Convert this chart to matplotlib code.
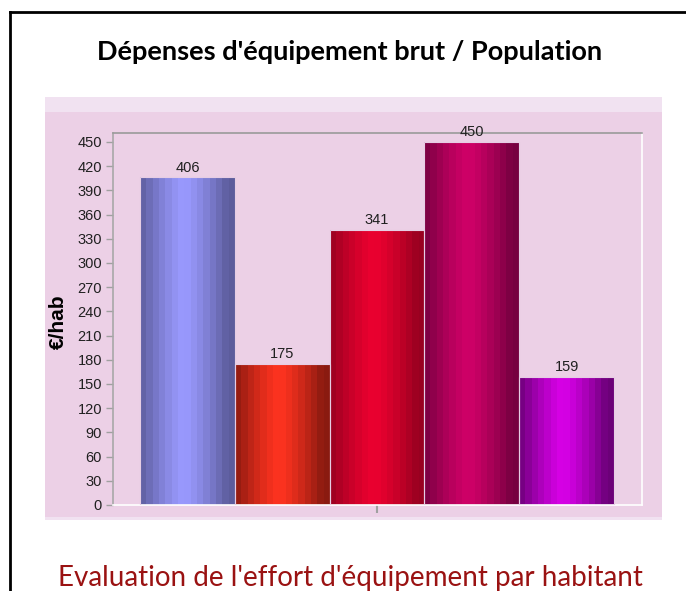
import numpy as np
import matplotlib
matplotlib.use("Agg")
from matplotlib import pyplot as plt
from matplotlib.colors import to_rgb
from matplotlib.patches import Rectangle
from matplotlib.lines import Line2D

# Données
valeurs = [406, 175, 341, 450, 159]
couleurs_centre = ["#9a9aff", "#ff3320", "#ec0030", "#d00068", "#d800e8"]
couleurs_bord = ["#5c5c9c", "#8a1a10", "#980020", "#760040", "#6c0078"]
graduations = list(range(0, 451, 30))

titre = "Dépenses d'équipement brut / Population"
sous_titre = "Evaluation de l'effort d'équipement par habitant"
label_y = "€/hab"

W, H = 686, 591
fig = plt.figure(figsize=(W / 100, H / 100), dpi=100)
fig.patch.set_facecolor("white")

def fx(px):
    return px / W

def fy(py):
    return 1 - py / H

# cadre noir du document
fig.add_artist(Line2D([fx(10), fx(686)], [fy(12), fy(12)], color="black", lw=2))
fig.add_artist(Line2D([fx(10), fx(10)], [fy(12), fy(591)], color="black", lw=2))

# fond du graphique
fig.add_artist(Rectangle((fx(45), fy(520)), fx(662) - fx(45), fy(97) - fy(520),
                         facecolor="#ecd0e6", edgecolor="none", zorder=0))
fig.add_artist(Rectangle((fx(45), fy(112)), fx(662) - fx(45), fy(97) - fy(112),
                         facecolor="#f1e2f1", edgecolor="none", zorder=0))
fig.add_artist(Rectangle((fx(45), fy(520)), fx(662) - fx(45), fy(517) - fy(520),
                         facecolor="#f1e2f1", edgecolor="none", zorder=0))

fig.text(fx(350), fy(52), titre, ha="center", va="center", fontsize=19.5,
         fontweight="bold", family="Lato", color="black")
fig.text(fx(350), fy(578), sous_titre, ha="center", va="center", fontsize=20,
         family="Lato", color="#9a1212")

ax = fig.add_axes([fx(113), fy(505), fx(642) - fx(113), fy(133) - fy(505)])
ax.set_facecolor("#ecd0e6")

x = np.arange(len(valeurs))
barres = ax.bar(x, valeurs, width=1.0, facecolor="none", edgecolor="#e6cde4",
                linewidth=0.8, zorder=3)

# dégradé en bandes verticales
n = 15
t = np.linspace(-1, 1, n)
poids = np.clip(np.abs(t + 0.08), 0, 1) ** 1.3
for barre, v, cc, cb in zip(barres, valeurs, couleurs_centre, couleurs_bord):
    c1 = np.array(to_rgb(cc))
    c2 = np.array(to_rgb(cb))
    grad = c1[None, :] * (1 - poids[:, None]) + c2[None, :] * poids[:, None]
    grad = grad[None, :, :]
    x0, y0 = barre.get_x(), barre.get_y()
    w, h = barre.get_width(), barre.get_height()
    im = ax.imshow(grad, extent=[x0, x0 + w, y0, y0 + h], aspect="auto",
                   interpolation="nearest", zorder=2)
    im.set_clip_path(barre)
    ax.text(x0 + w / 2, y0 + h + 3, str(v),
            ha="center", va="bottom", fontsize=10.5, family="Liberation Sans",
            color="#202020", zorder=4)

ax.set_xlim(-0.785, 4.795)
ax.set_ylim(0, 461)
ax.set_yticks(graduations)
ax.set_yticklabels([str(g) for g in graduations], family="Liberation Sans",
                   fontsize=10.5, color="#202020")
ax.set_xticks([2])
ax.set_xticklabels([""])
ax.tick_params(axis="y", length=5, color="#a0a0a0", width=1, pad=3)
ax.tick_params(axis="x", length=6, color="#a0a0a0", width=1.5)

ax.spines["top"].set_color("#9a9a9a")
ax.spines["left"].set_color("#a8a8a8")
ax.spines["bottom"].set_color("white")
ax.spines["right"].set_color("white")
for s in ax.spines.values():
    s.set_linewidth(1.2)

fig.text(fx(58), fy(322), label_y, rotation=90, ha="center", va="center",
         fontsize=15, fontweight="bold", family="Liberation Sans", color="black")

fig.savefig("out.png", dpi=100)
